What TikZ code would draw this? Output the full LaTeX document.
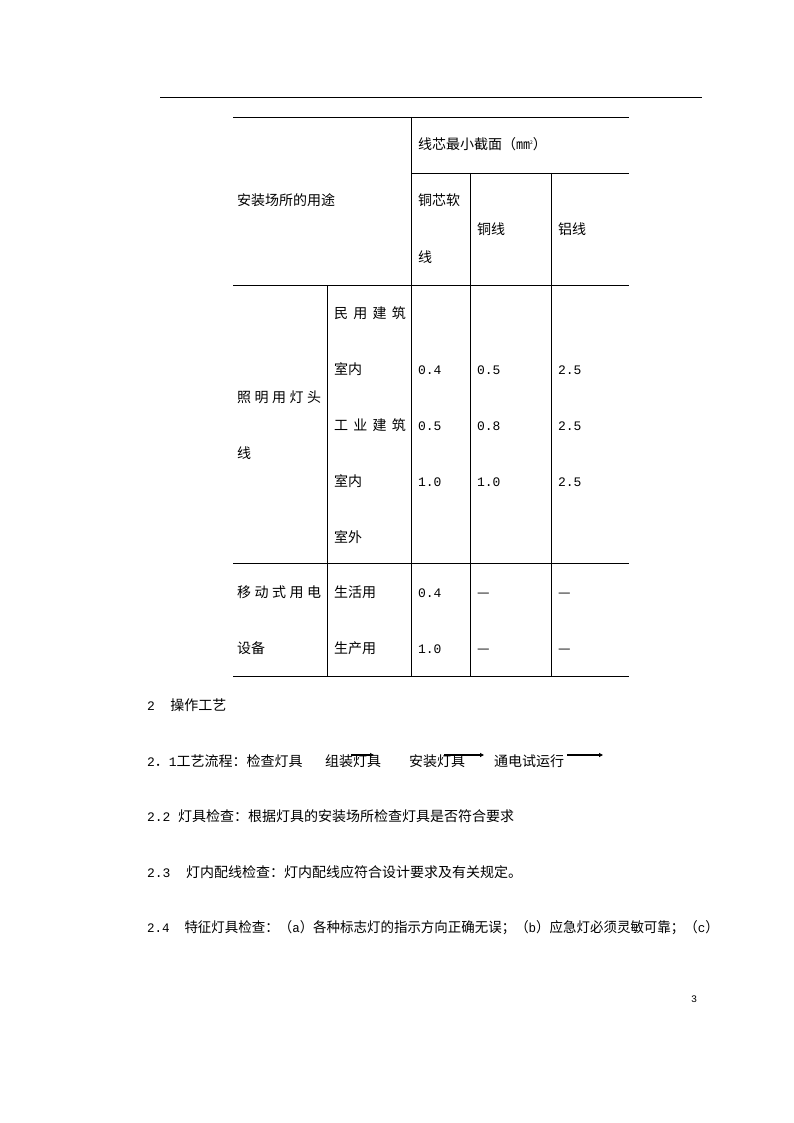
\documentclass[tikz,border=0pt]{standalone}
\usepackage{fontspec}
\usepackage{graphicx}
\newfontfamily\cjk{Noto Sans CJK SC}
\newfontfamily\monof{Liberation Mono}
\newcommand\dg[1]{{\monof\fontsize{13}{13}\selectfont #1}}
\usetikzlibrary{arrows.meta}
\begin{document}
\begin{tikzpicture}[x=1pt,y=-1pt,
  every node/.style={inner sep=0pt,outer sep=0pt,anchor=base west},
  tx/.style={font=\cjk\fontsize{14}{14}\selectfont},
  rule/.style={line width=0.9pt,black},
  flow/.style={line width=1.2pt,-{Triangle[length=4pt,width=4pt]}}]
\useasboundingbox (0,0) rectangle (794,1123);
\fill[white] (0,0) rectangle (794,1123);
% header rule
\draw[rule] (160,97) -- (702,97);
% table
\draw[rule] (233,117) -- (629,117);
\draw[rule] (411,173) -- (629,173);
\draw[rule] (233,285) -- (629,285);
\draw[rule] (233,563) -- (629,563);
\draw[rule] (233,676) -- (629,676);
\draw[rule] (411,117) -- (411,676);
\draw[rule] (470,173) -- (470,676);
\draw[rule] (551,173) -- (551,676);
\draw[rule] (327,285) -- (327,676);
% header texts
\node[tx] (h1) at (418,150) {线芯最小截面（㎜\raisebox{5pt}{\fontsize{5}{5}\selectfont 2}）};
\node[tx] (h2) at (237,206) {安装场所的用途};
\node[tx] (h3) at (418,206) {铜芯软};
\node[tx] (h3b) at (418,262) {线};
\node[tx] (h4) at (477,234) {铜线};
\node[tx] (h5) at (558,234) {铝线};
% group 1
\node[tx] (g1) at (237,402) {\makebox[84pt][s]{照\hfill 明\hfill 用\hfill 灯\hfill 头}};
\node[tx] (g1b) at (237,458) {线};
\node[tx] (s1) at (334,318) {\makebox[72pt][s]{民\hfill 用\hfill 建\hfill 筑}};
\node[tx] (s2) at (334,374) {室内};
\node[tx] (s3) at (334,430) {\makebox[72pt][s]{工\hfill 业\hfill 建\hfill 筑}};
\node[tx] (s4) at (334,486) {室内};
\node[tx] (s5) at (334,542) {室外};
\node (v11) at (418,374) {\dg{0.4}};
\node (v12) at (477,374) {\dg{0.5}};
\node (v13) at (558,374) {\dg{2.5}};
\node (v21) at (418,430) {\dg{0.5}};
\node (v22) at (477,430) {\dg{0.8}};
\node (v23) at (558,430) {\dg{2.5}};
\node (v31) at (418,486) {\dg{1.0}};
\node (v32) at (477,486) {\dg{1.0}};
\node (v33) at (558,486) {\dg{2.5}};
% group 2
\node[tx] (g2) at (237,597) {\makebox[84pt][s]{移\hfill 动\hfill 式\hfill 用\hfill 电}};
\node[tx] (g2b) at (237,653) {设备};
\node[tx] (t1) at (334,597) {生活用};
\node[tx] (t2) at (334,653) {生产用};
\node (w11) at (418,597) {\dg{0.4}};
\node[tx] (w12) at (477,597) {—};
\node[tx] (w13) at (558,597) {—};
\node (w21) at (418,653) {\dg{1.0}};
\node[tx] (w22) at (477,653) {—};
\node[tx] (w23) at (558,653) {—};
% body text
\node[tx] (p2) at (147,710) {\dg{2\ \ }操作工艺};
\node[tx] (p21) at (147,766) {\dg{2}．\dg{1}工艺流程：检查灯具};
\node[tx] (f2) at (325,766) {组装灯具};
\node[tx] (f3) at (409,766) {安装灯具};
\node[tx] (f4) at (494,766) {通电试运行};
\coordinate (a1s) at (351,755);
\coordinate (a1e) at (374,755);
\coordinate (a2s) at (444,755);
\coordinate (a2e) at (484,755);
\coordinate (a3s) at (567,755);
\coordinate (a3e) at (603,755);
\draw[flow] (a1s) -- (a1e);
\draw[flow] (a2s) -- (a2e);
\draw[flow] (a3s) -- (a3e);
\node[tx] (p22) at (147,821) {\dg{2.2 }灯具检查：根据灯具的安装场所检查灯具是否符合要求};
\node[tx] (p23) at (147,877) {\dg{2.3\ \ }灯内配线检查：灯内配线应符合设计要求及有关规定。};
\node[tx] (p24) at (147,932) {\scalebox{0.962}[1]{\dg{2.4\ \ }特征灯具检查：（\dg{a}）各种标志灯的指示方向正确无误；（\dg{b}）应急灯必须灵敏可靠；（\dg{c}）}};
\node (pg) at (691,1002) {{\monof\fontsize{10}{10}\selectfont 3}};
\end{tikzpicture}
\end{document}
